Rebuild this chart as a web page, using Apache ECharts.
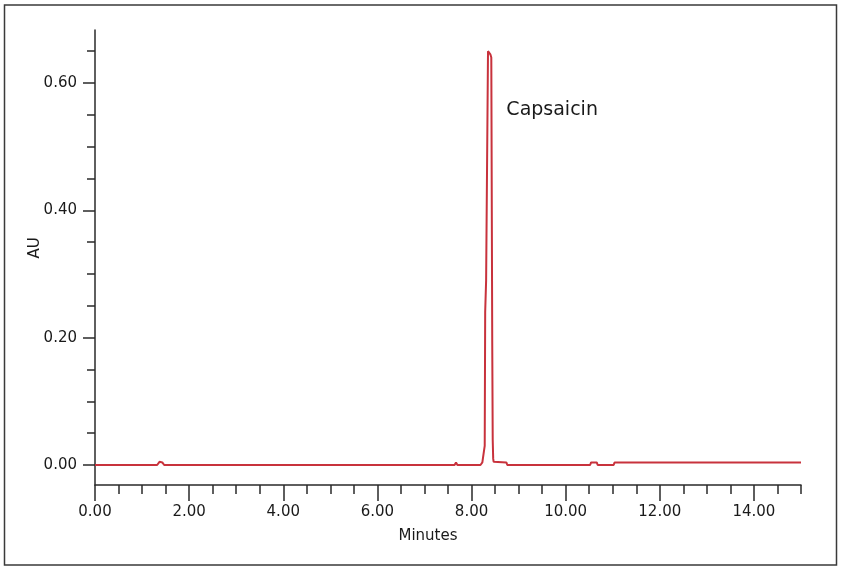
<!DOCTYPE html>
<html>
<head>
<meta charset="utf-8">
<script src="https://cdn.jsdelivr.net/npm/echarts@6/dist/echarts.min.js"></script>
<style>
html,body{margin:0;padding:0;background:#fff;}
#c{width:844px;height:567px;}
</style>
</head>
<body>
<div id="c"></div>
<script>
// Chromatogram trace (minutes, AU)
const times = [0, 1.32, 1.37, 1.40, 1.43, 1.47, 7.64, 7.67, 7.70, 8.19, 8.23, 8.26, 8.28, 8.29, 8.31, 8.35, 8.37, 8.40, 8.42, 8.44, 8.45, 8.46, 8.47, 8.74, 8.76, 10.52, 10.54, 10.66, 10.68, 11.02, 11.04, 15];
const absorbance = [0, 0, 0.005, 0.008, 0.004, 0, 0, 0.004, 0, 0, 0.004, 0.02, 0.03, 0.24, 0.29, 0.65, 0.65, 0.645, 0.64, 0.19, 0.04, 0.01, 0.005, 0.004, 0, 0, 0.004, 0.004, 0, 0, 0.004, 0.004];

const xMajorTicks = [0, 2, 4, 6, 8, 10, 12, 14];
const xMinorTicks = [0.5, 1, 1.5, 2.5, 3, 3.5, 4.5, 5, 5.5, 6.5, 7, 7.5, 8.5, 9, 9.5, 10.5, 11, 11.5, 12.5, 13, 13.5, 14.5, 15];
const yMajorTicks = [0, 0.2, 0.4, 0.6];
const yMinorTicks = [0.05, 0.1, 0.15, 0.25, 0.3, 0.35, 0.45, 0.5, 0.55, 0.65];

const peakName = 'Capsaicin';
const peakLabelAt = [8.74, 0.558];
const xTitle = 'Minutes';
const yTitle = 'AU';

const xMin = 0, xMax = 15, yMin = -0.0314, yMax = 0.6832;
const axisCol = '#2a2a2a';
const txtCol = '#1a1a1a';
const font = 'DejaVu Sans';
const lineCol = '#c8323c';

const chart = echarts.init(document.getElementById('c'), null, {renderer: 'canvas'});
chart.setOption({
  animation: false,
  backgroundColor: '#fff',
  grid: {left: 95, right: 43, top: 30, bottom: 82, containLabel: false},
  xAxis: [
    {
      type: 'value', min: xMin, max: xMax,
      axisLine: {show: true, onZero: false, lineStyle: {color: axisCol, width: 1.5}},
      axisTick: {show: true, customValues: xMajorTicks, length: 16, lineStyle: {color: axisCol, width: 1.5}},
      axisLabel: {show: true, customValues: xMajorTicks, margin: 20, color: txtCol, fontSize: 15, fontFamily: font,
        formatter: v => v.toFixed(2)},
      splitLine: {show: false}
    },
    {
      type: 'value', min: xMin, max: xMax, position: 'bottom',
      axisLine: {show: false, onZero: false},
      axisTick: {show: true, customValues: xMinorTicks, length: 9, lineStyle: {color: axisCol, width: 1.5}},
      axisLabel: {show: false},
      splitLine: {show: false}
    }
  ],
  yAxis: [
    {
      type: 'value', min: yMin, max: yMax,
      axisLine: {show: true, onZero: false, lineStyle: {color: axisCol, width: 1.5}},
      axisTick: {show: true, customValues: yMajorTicks, length: 12, lineStyle: {color: axisCol, width: 1.5}},
      axisLabel: {show: true, customValues: yMajorTicks, margin: 18, color: txtCol, fontSize: 15, fontFamily: font,
        formatter: v => v.toFixed(2)},
      splitLine: {show: false}
    },
    {
      type: 'value', min: yMin, max: yMax, position: 'left',
      axisLine: {show: false, onZero: false},
      axisTick: {show: true, customValues: yMinorTicks, length: 8, lineStyle: {color: axisCol, width: 1.5}},
      axisLabel: {show: false},
      splitLine: {show: false}
    }
  ],
  series: [{
    type: 'line',
    xAxisIndex: 0, yAxisIndex: 0,
    data: times.map((t, i) => [t, absorbance[i]]),
    showSymbol: false, symbol: 'none',
    lineStyle: {color: lineCol, width: 2},
    itemStyle: {color: lineCol}
  }]
});
const p = chart.convertToPixel({xAxisIndex: 0, yAxisIndex: 0}, peakLabelAt);
chart.setOption({
  graphic: [
    {type: 'rect', shape: {x: 4.5, y: 5, width: 832, height: 560}, style: {fill: 'none', stroke: '#3a3a3a', lineWidth: 1.5}, silent: true},
    {type: 'text', x: 428, y: 536, style: {text: xTitle, fill: txtCol, font: '15px "DejaVu Sans"', textAlign: 'center', textVerticalAlign: 'middle'}},
    {type: 'text', x: 35, y: 248, rotation: Math.PI / 2, style: {text: yTitle, fill: txtCol, font: '15px "DejaVu Sans"', textAlign: 'center', textVerticalAlign: 'middle'}},
    {type: 'text', x: p[0], y: p[1], style: {text: peakName, fill: txtCol, font: '19px "DejaVu Sans"', textAlign: 'left', textVerticalAlign: 'middle'}}
  ]
});
</script>
</body>
</html>
